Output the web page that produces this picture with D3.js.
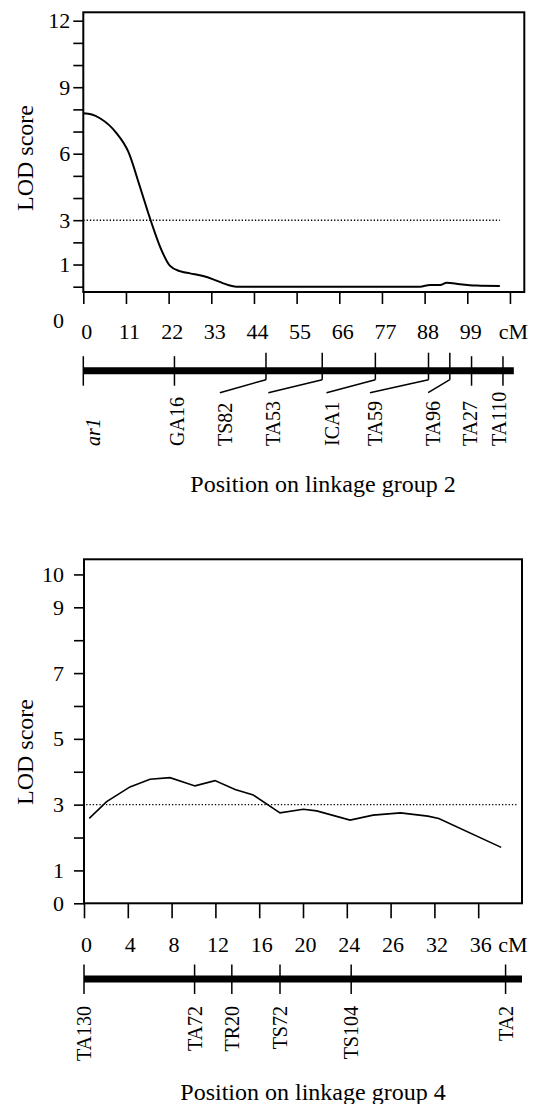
<!DOCTYPE html>
<meta charset="utf-8">
<style>
body { margin: 0; background: #fff; }
svg text { font-family: "Liberation Serif", "Times New Roman", serif; fill: #000; }
</style>
<body>
<svg width="542" height="1104"></svg>
<script src="https://d3js.org/d3.v7.min.js"></script>
<script>
// ---- linkage group 2 ----
var lg2Pos = [0, 2.2, 4.3, 8.6, 11.6, 14.6, 17.2, 19.8, 22.3, 24.9, 27.5, 30.9, 33.5, 36.1, 39.5, 86.8, 89.4, 92, 93.7, 97.1, 101.4, 107.4];
var lg2Lod = [7.82, 7.77, 7.6, 6.92, 6.09, 4.51, 3.08, 1.8, 0.95, 0.7, 0.6, 0.48, 0.33, 0.15, 0, 0, 0.08, 0.08, 0.18, 0.11, 0.05, 0.03];
var lg2XTicks = [0, 11, 22, 33, 44, 55, 66, 77, 88, 99, 110];
var lg2XLabels = ["0", "11", "22", "33", "44", "55", "66", "77", "88", "99", "cM"];
var lg2YTicks = [0, 1, 2, 3, 4, 5, 6, 7, 8, 9, 10, 11, 12];
var lg2YLabels = [12, 9, 6, 3, 1];
var lg2Markers = ["ar1", "GA16", "TS82", "TA53", "ICA1", "TA59", "TA96", "TA27", "TA110"];
var lg2MarkerPos = [0, 23.5, 47.1, 61.6, 75.3, 89, 94.5, 100.1, 108.2];
var lg2LabelPos = [2.5, 24.1, 36.5, 49, 64, 75.2, 90.2, 99.7, 107.2];
var lg2Length = 111;
var lg2Threshold = [0, 107.4];

// ---- linkage group 4 ----
var lg4Pos = [0.48, 2.07, 4.2, 6.03, 7.85, 10.14, 11.96, 13.8, 15.46, 17.9, 20.03, 21.25, 24.3, 26.4, 28.9, 31.4, 32.4, 38.1];
var lg4Lod = [2.58, 3.09, 3.54, 3.77, 3.82, 3.57, 3.73, 3.46, 3.29, 2.75, 2.86, 2.81, 2.53, 2.68, 2.75, 2.65, 2.58, 1.70];
var lg4XTicks = [0, 4, 8, 12, 16, 20, 24, 28, 32, 36];
var lg4XLabels = ["0", "4", "8", "12", "16", "20", "24", "26", "32", "36"];
var lg4YTicks = [0, 1, 2, 3, 4, 5, 6, 7, 8, 9, 10];
var lg4YLabels = [10, 9, 7, 5, 3, 1, 0];
var lg4Markers = ["TA130", "TA72", "TR20", "TS72", "TS104", "TA2"];
var lg4MarkerPos = [0, 10.1, 13.5, 17.9, 24.4, 38.5];
var lg4LabelPos = [0, 10.1, 13.5, 17.9, 24.4, 38.5];
var lg4Length = 40;
var lg4Threshold = [0.2, 39.5];

var threshold = 3;

var svg = d3.select("svg");

function drawPanel(p) {
  var x = d3.scaleLinear().domain(p.xDomain).range(p.xRange);
  var y = d3.scaleLinear().domain(p.yDomain).range(p.yRange);
  var g = svg.append("g");

  // y axis (ticks only, frame drawn below)
  var ya = g.append("g")
    .attr("transform", "translate(" + p.xRange[0] + ",0)")
    .call(d3.axisLeft(y).tickValues(p.yTicks).tickSize(10).tickPadding(p.yPad)
      .tickFormat(function (d) { return p.yLabels.indexOf(d) >= 0 ? d : ""; }));
  ya.select(".domain").remove();
  ya.selectAll("line").attr("stroke-width", 1.6);
  ya.selectAll("text").style("font-size", "22px");

  // x axis
  var xa = g.append("g")
    .attr("transform", "translate(0," + p.yRange[0] + ")")
    .call(d3.axisBottom(x).tickValues(p.xTicks).tickSize(p.xTickLen).tickPadding(p.xPad)
      .tickFormat(function (d, i) { return p.xLabels[i]; }));
  xa.select(".domain").remove();
  xa.selectAll("line").attr("stroke-width", 1.6);
  xa.selectAll("text").style("font-size", "22px").attr("dx", p.xLabelDx);

  // frame
  g.append("rect")
    .attr("x", p.xRange[0]).attr("y", p.yRange[1])
    .attr("width", p.xRange[1] - p.xRange[0])
    .attr("height", p.yRange[0] - p.yRange[1])
    .attr("fill", "none").attr("stroke", "#000").attr("stroke-width", 2);

  // threshold
  g.append("line")
    .attr("x1", x(p.thr[0])).attr("x2", x(p.thr[1]))
    .attr("y1", y(threshold)).attr("y2", y(threshold))
    .attr("stroke", "#000").attr("stroke-width", 1.4)
    .attr("stroke-dasharray", "1.3,2");

  // LOD curve
  var line = d3.line()
    .x(function (d, i) { return x(p.pos[i]); })
    .y(function (d) { return y(d); })
    .curve(p.curve);
  g.append("path")
    .attr("d", line(p.lod))
    .attr("fill", "none").attr("stroke", "#000").attr("stroke-width", p.lineW);

  // y title
  g.append("text")
    .attr("transform", "translate(25," + p.yTitleY + ") rotate(-90)")
    .attr("text-anchor", "middle").attr("dy", "0.35em")
    .style("font-size", "24px")
    .text("LOD score");

  // linkage map bar
  g.append("line")
    .attr("x1", x(0)).attr("x2", x(p.len))
    .attr("y1", p.barY).attr("y2", p.barY)
    .attr("stroke", "#000").attr("stroke-width", 7);

  p.markers.forEach(function (m, i) {
    var mx = x(p.mPos[i]), lx = x(p.lPos[i]);
    var bent = Math.abs(mx - lx) > 12;
    g.append("line")
      .attr("x1", mx).attr("x2", mx)
      .attr("y1", p.barY + (bent ? -18 : -14.5))
      .attr("y2", p.barY + (bent ? 9 : 15))
      .attr("stroke", "#000").attr("stroke-width", 1.5);
    if (bent) {
      g.append("line")
        .attr("x1", mx).attr("y1", p.barY + 9)
        .attr("x2", lx - 5).attr("y2", p.barY + 22)
        .attr("stroke", "#000").attr("stroke-width", 1.5);
    }
    g.append("text")
      .attr("transform", "translate(" + lx + "," + p.labelY + ") rotate(-90)")
      .attr("text-anchor", p.labelAnchor).attr("dy", "0.35em")
      .style("font-size", "20px")
      .style("font-style", m === "ar1" ? "italic" : null)
      .text(m);
  });

  // title under the map
  g.append("text")
    .attr("x", p.titleX).attr("y", p.titleY)
    .attr("text-anchor", "middle")
    .style("font-size", "24px")
    .text(p.title);

  return { x: x, y: y, g: g };
}

var top2 = drawPanel({
  xDomain: [0, 113.7], xRange: [83.3, 524.3],
  yDomain: [-0.24, 12.38], yRange: [292, 12.3],
  xTicks: lg2XTicks, xLabels: lg2XLabels, xTickLen: 12, xPad: 19, xLabelDx: 3,
  yTicks: lg2YTicks, yLabels: lg2YLabels, yPad: 3,
  pos: lg2Pos, lod: lg2Lod, curve: d3.curveMonotoneX, lineW: 2,
  thr: lg2Threshold, yTitleY: 158,
  len: lg2Length, barY: 370.7,
  markers: lg2Markers, mPos: lg2MarkerPos, lPos: lg2LabelPos,
  labelY: 446, labelAnchor: "start",
  title: "Position on linkage group 2", titleX: 323, titleY: 492
});
// lone "0" under the y axis of the top panel
top2.g.append("text")
  .attr("x", 64).attr("y", top2.y(0) + 41)
  .attr("text-anchor", "end")
  .style("font-size", "22px")
  .text("0");

var bot4 = drawPanel({
  xDomain: [0, 40], xRange: [84, 522],
  yDomain: [0, 10.46], yRange: [903.3, 559.3],
  xTicks: lg4XTicks, xLabels: lg4XLabels, xTickLen: 15, xPad: 18, xLabelDx: 2,
  yTicks: lg4YTicks, yLabels: lg4YLabels, yPad: 10,
  pos: lg4Pos, lod: lg4Lod, curve: d3.curveLinear, lineW: 1.6,
  thr: lg4Threshold, yTitleY: 752,
  len: lg4Length, barY: 979,
  markers: lg4Markers, mPos: lg4MarkerPos, lPos: lg4LabelPos,
  labelY: 1006, labelAnchor: "end",
  title: "Position on linkage group 4", titleX: 313, titleY: 1100
});
// unit after the last tick label
bot4.g.append("text")
  .attr("x", bot4.x(36) + 20).attr("y", 903.3 + 15 + 18)
  .attr("dy", "0.71em")
  .style("font-size", "22px")
  .text("cM");
</script>
</body>
